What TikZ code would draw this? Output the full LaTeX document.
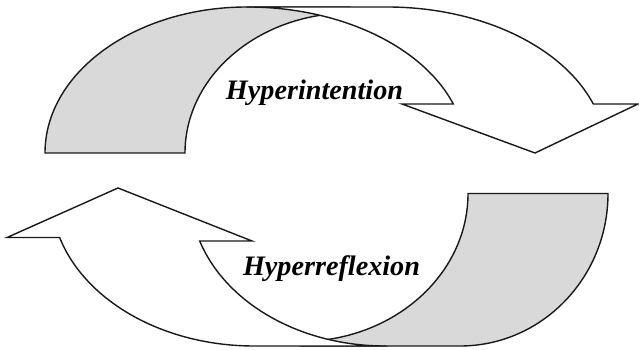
\documentclass[tikz,border=0pt]{standalone}
\usepackage{fontspec}
\setmainfont{Liberation Serif}
\begin{document}
\begin{tikzpicture}[x=1pt,y=1pt,
    frontband/.style={draw=black!90, line width=1.4pt, line join=miter, fill=white},
    backband/.style={frontband, fill=black!15},
    arrowtext/.style={font=\fontsize{28.2}{30}\selectfont\bfseries\itshape, inner sep=0pt, anchor=base}]
  \useasboundingbox (0,0) rectangle (639,350);
  % Upper arrow, back side
  \draw[backband] (45,197) arc[start angle=180, end angle=90, x radius=202, y radius=146]
    -- (350,343) -- (350,337) arc[start angle=90, end angle=180, x radius=165, y radius=140] -- cycle;
  % Upper arrow, front side and head
  \draw[frontband] (247,343) -- (387,343)
    arc[start angle=90, end angle=19.6, x radius=219, y radius=146]
    -- (638,246) -- (535,197) -- (402,246) -- (453.3,246)
    arc[start angle=19.6, end angle=90, x radius=219, y radius=146] -- cycle;
  % Lower arrow, back side
  \draw[backband] (468,156.5) -- (608,156.5)
    arc[start angle=0, end angle=-90, x radius=148, y radius=152.5]
    -- (300,4) -- (300,8.5) arc[start angle=-90, end angle=0, x radius=168, y radius=148] -- cycle;
  % Lower arrow, front side and head
  \draw[frontband] (385,4) -- (254,4)
    arc[start angle=270, end angle=196.77, x radius=203, y radius=152.5]
    -- (7,112.5) -- (118,162) -- (252,109) -- (199.7,109)
    arc[start angle=198.15, end angle=270, x radius=195, y radius=152.5] -- cycle;
  % Labels
  \node[arrowtext] (hyperint) at (314.5,250) {Hyperintention};
  \node[arrowtext] (hyperrefl) at (331.5,74) {Hyperreflexion};
\end{tikzpicture}
\end{document}
